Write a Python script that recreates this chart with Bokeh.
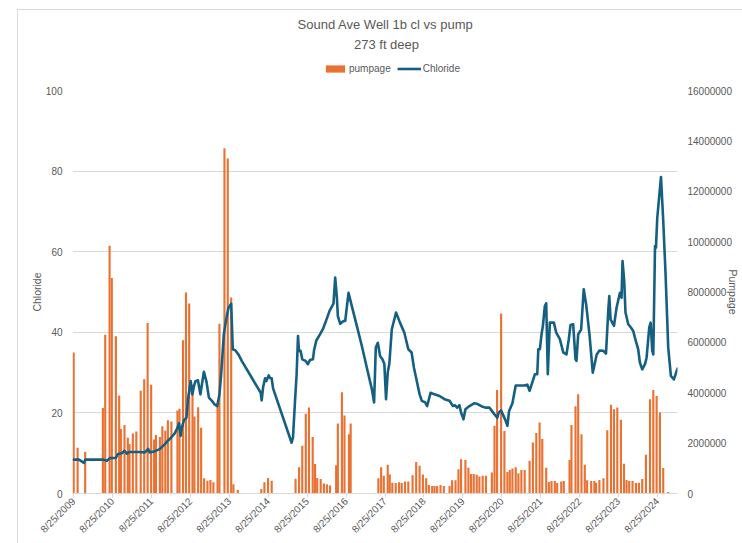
import math
import pandas as pd
from bokeh.plotting import figure
from bokeh.layouts import column
from bokeh.models import (Range1d, LinearAxis, FixedTicker, Legend, LegendItem, Label,
                          ColumnDataSource, BasicTickFormatter)
from bokeh.embed import file_html
from bokeh.resources import INLINE

# ---------------- data ----------------
pump_dates = [
    "2009-08-25", "2009-10-01", "2009-12-11", "2010-05-26", "2010-06-17", "2010-07-28", "2010-08-18",
    "2010-09-25", "2010-10-26", "2010-11-11", "2010-12-15", "2011-01-15", "2011-01-31", "2011-03-03",
    "2011-04-05", "2011-05-16", "2011-06-18", "2011-07-20", "2011-08-22", "2011-09-19", "2011-10-06",
    "2011-11-12", "2011-12-05", "2012-01-02", "2012-01-26", "2012-02-28", "2012-04-25", "2012-05-14",
    "2012-06-16", "2012-07-14", "2012-08-13", "2012-09-13", "2012-10-01", "2012-11-05", "2012-12-03",
    "2012-12-31", "2013-01-31", "2013-02-28", "2013-03-28", "2013-05-06", "2013-05-24", "2013-07-10",
    "2013-08-10", "2013-09-11", "2013-10-02", "2013-11-12", "2014-06-21", "2014-07-20", "2014-08-23",
    "2014-09-26", "2015-05-08", "2015-06-10", "2015-07-10", "2015-08-12", "2015-09-11", "2015-10-16",
    "2015-11-07", "2015-11-27", "2015-12-30", "2016-01-29", "2016-02-26", "2016-03-26", "2016-05-23",
    "2016-06-08", "2016-07-16", "2016-08-09", "2016-09-20", "2016-10-06", "2017-06-23", "2017-07-19",
    "2017-08-13", "2017-09-19", "2017-10-08", "2017-11-01", "2017-12-03", "2018-01-03", "2018-01-28",
    "2018-02-28", "2018-03-31", "2018-05-10", "2018-06-13", "2018-07-15", "2018-08-15", "2018-09-15",
    "2018-10-10", "2018-11-10", "2018-12-02", "2018-12-26", "2019-01-27", "2019-02-27", "2019-04-22",
    "2019-05-16", "2019-06-17", "2019-07-15", "2019-08-08", "2019-09-18", "2019-10-16", "2019-11-10",
    "2019-12-05", "2020-01-02", "2020-01-27", "2020-02-27", "2020-03-29", "2020-05-23", "2020-06-17",
    "2020-07-11", "2020-08-18", "2020-09-18", "2020-10-16", "2020-11-07", "2020-12-02", "2021-01-02",
    "2021-01-27", "2021-02-24", "2021-03-27", "2021-05-12", "2021-06-12", "2021-07-14", "2021-08-14",
    "2021-09-08", "2021-10-15", "2021-11-09", "2021-12-04", "2022-01-04", "2022-01-26", "2022-03-05",
    "2022-03-29", "2022-05-22", "2022-06-09", "2022-07-17", "2022-08-11", "2022-09-11", "2022-10-12",
    "2022-11-03", "2022-12-11", "2023-01-10", "2023-01-26", "2023-02-26", "2023-04-05", "2023-05-11",
    "2023-06-15", "2023-07-13", "2023-08-13", "2023-09-16", "2023-10-15", "2023-11-08", "2023-12-03",
    "2024-01-03", "2024-02-04", "2024-03-03", "2024-04-03", "2024-05-08", "2024-06-15", "2024-07-16",
    "2024-08-16", "2024-09-16", "2024-10-17", "2024-12-03",
]
pumpage = [
    5600000, 1820000, 1660000, 3390000, 6300000, 9840000, 8560000,
    6240000, 3890000, 2560000, 2720000, 2210000, 1970000, 2380000,
    2460000, 4080000, 4540000, 6770000, 4320000, 2140000, 2320000,
    2240000, 2670000, 2500000, 2910000, 2860000, 3300000, 3360000,
    6080000, 7980000, 7540000, 4320000, 3060000, 3420000, 2610000,
    610000, 510000, 540000, 450000, 3520000, 6740000, 13710000,
    13300000, 7780000, 370000, 140000, 180000, 450000, 620000,
    510000, 590000, 1040000, 1900000, 3170000, 3410000, 2240000,
    1170000, 620000, 580000, 400000, 370000, 320000, 1120000,
    2780000, 4020000, 3100000, 2350000, 2780000, 610000, 1040000,
    700000, 1140000, 750000, 430000, 420000, 450000, 420000,
    480000, 480000, 720000, 1250000, 1100000, 750000, 610000,
    340000, 300000, 300000, 300000, 340000, 300000, 300000,
    530000, 530000, 960000, 1360000, 1330000, 1020000, 770000,
    770000, 740000, 670000, 700000, 700000, 830000, 2690000,
    4110000, 7150000, 2480000, 850000, 930000, 990000, 1040000,
    800000, 930000, 930000, 1300000, 2020000, 2400000, 2820000,
    2160000, 1020000, 460000, 500000, 500000, 420000, 480000,
    500000, 1330000, 2720000, 3460000, 3940000, 2350000, 1140000,
    530000, 500000, 500000, 430000, 540000, 610000, 2510000,
    3520000, 3340000, 3410000, 2930000, 1180000, 540000, 500000,
    500000, 420000, 430000, 580000, 1540000, 3740000, 4110000,
    3870000, 3220000, 1010000, 60000,
]

cl_dates = [
    "2009-08-25", "2009-10-14", "2009-11-29", "2009-12-13", "2010-06-02", "2010-07-03", "2010-08-03",
    "2010-09-25", "2010-10-14", "2010-11-20", "2010-12-15", "2011-01-06", "2011-01-27", "2011-04-28",
    "2011-06-25", "2011-07-25", "2011-08-08", "2011-09-17", "2011-11-10", "2011-12-27", "2012-01-26",
    "2012-02-27", "2012-03-30", "2012-04-24", "2012-05-09", "2012-05-25", "2012-06-06", "2012-06-25",
    "2012-07-18", "2012-08-02", "2012-08-27", "2012-09-12", "2012-09-27", "2012-10-10", "2012-11-03",
    "2012-11-26", "2012-12-29", "2013-01-21", "2013-02-14", "2013-03-14", "2013-04-08", "2013-05-03",
    "2013-05-24", "2013-06-09", "2013-07-04", "2013-07-26", "2013-08-17", "2013-09-11", "2013-09-26",
    "2013-10-21", "2013-11-18", "2013-12-19", "2014-06-15", "2014-06-24", "2014-07-07", "2014-07-26",
    "2014-08-07", "2014-08-17", "2014-08-29", "2014-09-11", "2014-09-26", "2014-10-09", "2015-04-01",
    "2015-04-14", "2015-05-03", "2015-05-18", "2015-05-31", "2015-06-09", "2015-06-24", "2015-07-10",
    "2015-08-10", "2015-09-01", "2015-09-20", "2015-10-18", "2015-10-28", "2015-11-18", "2015-12-23",
    "2016-01-23", "2016-02-23", "2016-03-22", "2016-04-28", "2016-05-14", "2016-05-30", "2016-06-08",
    "2016-06-30", "2016-07-31", "2016-08-16", "2016-09-16", "2016-10-17", "2016-12-03", "2017-01-19",
    "2017-03-07", "2017-04-23", "2017-05-14", "2017-05-30", "2017-06-18", "2017-07-09", "2017-07-31",
    "2017-08-18", "2017-09-03", "2017-09-19", "2017-10-04", "2017-10-27", "2017-12-06", "2018-01-12",
    "2018-02-22", "2018-03-31", "2018-05-01", "2018-05-23", "2018-06-22", "2018-07-15", "2018-08-05",
    "2018-09-05", "2018-09-24", "2018-10-26", "2018-12-02", "2019-01-18", "2019-03-06", "2019-04-22",
    "2019-05-23", "2019-06-13", "2019-07-02", "2019-07-24", "2019-08-08", "2019-08-31", "2019-09-18",
    "2019-10-26", "2019-12-12", "2020-01-11", "2020-02-27", "2020-03-29", "2020-05-01", "2020-05-23",
    "2020-06-15", "2020-07-13", "2020-07-27", "2020-08-18", "2020-09-02", "2020-09-24", "2020-10-16",
    "2020-10-31", "2020-12-02", "2021-01-02", "2021-02-18", "2021-03-21", "2021-04-21", "2021-05-12",
    "2021-06-06", "2021-07-01", "2021-07-23", "2021-08-02", "2021-08-17", "2021-09-01", "2021-09-14",
    "2021-10-02", "2021-10-15", "2021-10-30", "2021-11-18", "2021-12-26", "2022-01-17", "2022-02-20",
    "2022-03-24", "2022-04-23", "2022-05-15", "2022-05-31", "2022-06-25", "2022-07-17", "2022-07-26",
    "2022-08-11", "2022-09-08", "2022-10-02", "2022-10-25", "2022-11-25", "2022-12-26", "2023-02-01",
    "2023-02-26", "2023-04-05", "2023-04-29", "2023-05-21", "2023-05-30", "2023-06-11", "2023-07-13",
    "2023-08-06", "2023-09-07", "2023-09-22", "2023-10-01", "2023-10-17", "2023-10-29", "2023-11-24",
    "2023-12-19", "2024-01-10", "2024-01-31", "2024-02-25", "2024-03-12", "2024-04-03", "2024-04-29",
    "2024-05-14", "2024-06-08", "2024-06-21", "2024-07-06", "2024-07-16", "2024-08-01", "2024-08-10",
    "2024-08-22", "2024-09-07", "2024-09-26", "2024-10-17", "2024-11-08", "2024-12-03", "2024-12-28",
    "2025-01-25", "2025-02-28",
]
chloride = [
    8.4, 8.4, 7.6, 8.4, 8.4, 8.1, 8.8,
    8.8, 9.8, 10.0, 10.6, 9.9, 10.3, 10.3,
    10.2, 11.1, 10.2, 10.4, 11.0, 12.2, 13.1,
    13.9, 14.9, 16.2, 17.4, 14.3, 16.4, 18.2,
    18.8, 23.4, 27.9, 24.6, 26.7, 27.8, 28.1,
    24.6, 30.2, 27.9, 23.8, 23.0, 22.1, 21.7,
    24.6, 29.6, 39.5, 43.2, 46.1, 47.1, 35.8,
    35.5, 34.5, 32.9, 25.0, 23.1, 26.3, 28.6,
    27.9, 28.6, 29.3, 28.6, 28.6, 26.1, 12.6,
    13.9, 23.0, 29.6, 39.1, 35.4, 35.4, 33.3,
    32.9, 32.1, 33.1, 33.3, 35.4, 37.9, 39.5,
    41.0, 43.2, 45.3, 47.1, 53.6, 48.6, 44.0,
    42.1, 42.8, 42.8, 49.8, 46.5, 41.6, 36.6,
    31.2, 25.9, 22.6, 36.2, 37.4, 34.1, 33.3,
    32.2, 23.4, 30.0, 32.2, 40.7, 44.9, 42.4,
    39.9, 35.8, 35.0, 31.2, 27.5, 24.6, 23.0,
    22.6, 21.7, 25.0, 24.6, 24.2, 23.4, 23.0,
    21.7, 21.9, 21.3, 21.9, 20.1, 18.4, 20.9,
    21.7, 22.4, 22.2, 21.5, 21.3, 21.3, 20.5,
    19.7, 18.8, 20.1, 20.6, 19.7, 18.4, 16.8,
    20.4, 22.4, 26.8, 26.8, 26.8, 27.0, 25.5,
    27.5, 29.6, 29.6, 35.8, 35.8, 39.5, 41.6,
    46.5, 47.2, 29.6, 42.4, 42.4, 39.9, 38.3,
    35.0, 34.5, 38.3, 41.8, 42.0, 33.3, 32.9,
    39.5, 40.7, 50.7, 46.9, 39.5, 30.0, 34.5,
    35.5, 35.4, 34.7, 45.7, 49.0, 43.2, 41.6,
    46.1, 49.8, 48.6, 57.7, 52.7, 44.9, 42.0,
    41.2, 40.3, 38.1, 35.8, 32.5, 30.8, 32.1,
    33.7, 41.2, 42.4, 35.4, 34.5, 61.4, 61.0,
    68.4, 73.0, 78.5, 67.8, 54.4, 36.2, 29.2,
    28.3, 31.0,
]

tick_dates = ["2009-08-25", "2010-08-25", "2011-08-25", "2012-08-25", "2013-08-25", "2014-08-25",
              "2015-08-25", "2016-08-25", "2017-08-25", "2018-08-25", "2019-08-25", "2020-08-25",
              "2021-08-25", "2022-08-25", "2023-08-25", "2024-08-25"]
tick_labels = ["8/25/2009", "8/25/2010", "8/25/2011", "8/25/2012", "8/25/2013", "8/25/2014",
               "8/25/2015", "8/25/2016", "8/25/2017", "8/25/2018", "8/25/2019", "8/25/2020",
               "8/25/2021", "8/25/2022", "8/25/2023", "8/25/2024"]
cl_ticks = [0, 20, 40, 60, 80, 100]
pump_ticks = [0, 2000000, 4000000, 6000000, 8000000, 10000000, 12000000, 14000000, 16000000]

# ---------------- styling ----------------
FONT = "Liberation Sans"
GREY = "#595959"
ORANGE = "#E97132"
BLUE = "#156082"
HEADER_H = 85
FRAME_LEFT = 72  # the header's frame is aligned with the chart's frame by the column layout

# ---------------- header (titles + legend) ----------------
head = figure(width=742, height=HEADER_H, x_range=Range1d(0, 1), y_range=Range1d(0, 1),
              output_backend="svg", toolbar_location=None,
              x_axis_location=None, y_axis_location=None,
              min_border_left=0, min_border_right=0, min_border_top=0, min_border_bottom=0)
head.outline_line_color = None
head.xgrid.visible = False
head.ygrid.visible = False
head.background_fill_alpha = 0
head.border_fill_alpha = 0

head.add_layout(Label(x=385 - FRAME_LEFT, y=HEADER_H - 24, x_units="screen", y_units="screen",
                      text="Sound Ave Well 1b cl vs pump", text_align="center", text_baseline="middle",
                      text_font=FONT, text_font_size="13px", text_color=GREY))
head.add_layout(Label(x=386 - FRAME_LEFT, y=HEADER_H - 44, x_units="screen", y_units="screen",
                      text="273 ft deep", text_align="center", text_baseline="middle",
                      text_font=FONT, text_font_size="13px", text_color=GREY))

nan = float("nan")
key_bar = head.vbar(x=[nan], top=[nan], width=1, fill_color=ORANGE, line_color=None)
key_line = head.line(x=[nan], y=[nan], line_color=BLUE, line_width=2.6)
legend = Legend(items=[LegendItem(label="pumpage", renderers=[key_bar]),
                       LegendItem(label="Chloride", renderers=[key_line])],
                orientation="horizontal", location=(323 - FRAME_LEFT, HEADER_H - 74),
                border_line_color=None, background_fill_alpha=0,
                padding=0, margin=0, spacing=6, glyph_width=24, glyph_height=9,
                label_standoff=2, label_height=10, label_width=0,
                label_text_font=FONT, label_text_font_size="10px", label_text_color=GREY)
head.add_layout(legend)

# ---------------- main chart ----------------
x_start = pd.Timestamp("2009-08-14")   # a little room so the first bar is not cut in half
x_end = pd.Timestamp("2025-02-28")

p = figure(width=742, height=543 - HEADER_H, x_axis_type="datetime",
           x_range=Range1d(x_start, x_end), y_range=Range1d(0, 100),
           output_backend="svg", toolbar_location=None,
           min_border_left=FRAME_LEFT, min_border_right=65, min_border_top=90 - HEADER_H,
           min_border_bottom=50)
p.outline_line_color = None
p.background_fill_alpha = 0
p.border_fill_alpha = 0
p.extra_y_ranges = {"pump": Range1d(0, 16000000)}

bar_src = ColumnDataSource(dict(x=pd.to_datetime(pump_dates), top=pumpage))
line_src = ColumnDataSource(dict(x=pd.to_datetime(cl_dates), y=chloride))

p.vbar(x="x", top="top", width=20 * 24 * 3600 * 1000, source=bar_src,
       y_range_name="pump", fill_color=ORANGE, line_color=None)
p.line(x="x", y="y", source=line_src, line_color=BLUE, line_width=2.6,
       line_join="round", line_cap="round")

# x axis
tick_ms = [int(pd.Timestamp(d).value // 10**6) for d in tick_dates]
xax = p.xaxis[0]
xax.ticker = FixedTicker(ticks=tick_ms)
xax.major_label_overrides = {m: lab for m, lab in zip(tick_ms, tick_labels)}
xax.major_label_orientation = math.pi / 4
xax.axis_line_color = "#d9d9d9"
xax.major_tick_line_color = "#d9d9d9"
xax.major_tick_out = 4
xax.major_tick_in = 0
xax.minor_tick_line_color = None
xax.major_label_standoff = 2
xax.major_label_text_font = FONT
xax.major_label_text_font_size = "10px"
xax.major_label_text_color = GREY

# left axis
yax = p.yaxis[0]
yax.ticker = FixedTicker(ticks=cl_ticks)
yax.axis_line_color = None
yax.major_tick_line_color = None
yax.minor_tick_line_color = None
yax.major_tick_out = 0
yax.major_tick_in = 0
yax.major_label_standoff = 10
yax.major_label_text_font = FONT
yax.major_label_text_font_size = "10px"
yax.major_label_text_color = GREY
yax.axis_label = "Chloride"
yax.axis_label_standoff = 0
yax.axis_label_text_font = FONT
yax.axis_label_text_font_size = "10.5px"
yax.axis_label_text_font_style = "normal"
yax.axis_label_text_color = GREY

p.xgrid.visible = False
p.ygrid.ticker = FixedTicker(ticks=cl_ticks)
p.ygrid.grid_line_color = "#d9d9d9"
p.ygrid.grid_line_width = 1

# right axis
rax = LinearAxis(y_range_name="pump", ticker=FixedTicker(ticks=pump_ticks),
                 formatter=BasicTickFormatter(use_scientific=False))
rax.axis_line_color = None
rax.major_tick_line_color = None
rax.minor_tick_line_color = None
rax.major_tick_out = 0
rax.major_tick_in = 0
rax.major_label_standoff = 10
rax.major_label_text_font = FONT
rax.major_label_text_font_size = "10px"
rax.major_label_text_color = GREY
rax.axis_label = "Pumpage"
rax.axis_label_standoff = -8
rax.axis_label_text_font = FONT
rax.axis_label_text_font_size = "10.5px"
rax.axis_label_text_font_style = "normal"
rax.axis_label_text_color = GREY
p.add_layout(rax, "right")

layout = column(head, p, spacing=0)
# light chart-area border (left and top edges) behind the transparent figures
layout.styles = {
    "background": ("linear-gradient(#d9d9d9, #d9d9d9) 17px 9px / 1px 100% no-repeat, "
                   "linear-gradient(#d9d9d9, #d9d9d9) 17px 9px / 100% 1px no-repeat, #ffffff"),
}
open("out.html", "w").write(file_html(layout, INLINE))
